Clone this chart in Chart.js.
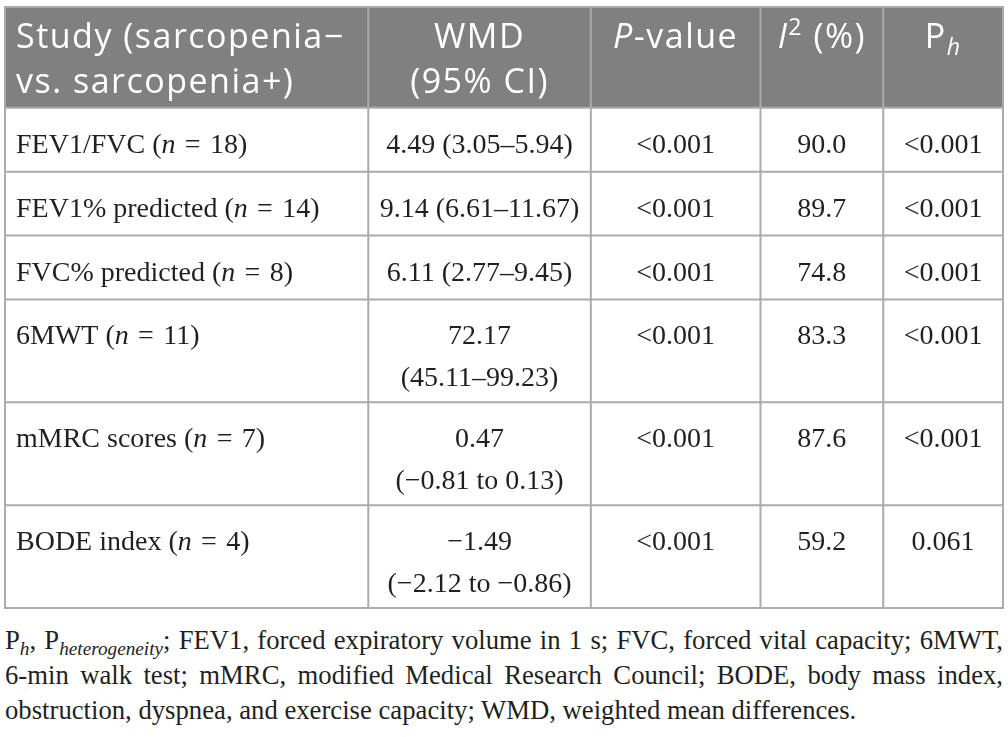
<!DOCTYPE html>
<html>
<head>
<meta charset="utf-8">
<script src="https://cdn.jsdelivr.net/npm/chart.js@4.4.1/dist/chart.umd.min.js"></script>
<style>
    html, body { margin: 0; background: #fff; }
    #wrap { position: relative; width: 1008px; height: 615px; }
    .note { font-family: "Liberation Serif", serif; font-size: 26.7px; line-height: 35px; color: #231f20; margin: 8px 5px 0 5px; }
    .note div { text-align: justify; text-align-last: justify; white-space: nowrap; }
    .note div.last { text-align-last: left; }
    .note sub { font-size: 0.72em; line-height: 0; vertical-align: -0.3em; font-style: italic; }
</style>
</head>
<body>
<div id="wrap"><canvas id="tbl"></canvas></div>
<div class="note">
    <div>P<sub>h</sub>, P<sub>heterogeneity</sub>; FEV1, forced expiratory volume in 1 s; FVC, forced vital capacity; 6MWT,</div>
    <div>6-min walk test; mMRC, modified Medical Research Council; BODE, body mass index,</div>
    <div class="last">obstruction, dyspnea, and exercise capacity; WMD, weighted mean differences.</div>
</div>
<script>
// 数据
const studies = ['FEV1/FVC', 'FEV1% predicted', 'FVC% predicted', '6MWT', 'mMRC scores', 'BODE index'];
const nStudies = [18, 14, 8, 11, 7, 4];
const wmd = ['4.49', '9.14', '6.11', '72.17', '0.47', '\u22121.49'];
const ci95 = ['3.05\u20135.94', '6.61\u201311.67', '2.77\u20139.45', '45.11\u201399.23', '\u22120.81 to 0.13', '\u22122.12 to \u22120.86'];
const pValues = ['<0.001', '<0.001', '<0.001', '<0.001', '<0.001', '<0.001'];
const i2 = [90.0, 89.7, 74.8, 83.3, 87.6, 59.2];
const pHet = ['<0.001', '<0.001', '<0.001', '<0.001', '<0.001', '0.061'];

// 表头
const headers = [
    [[{ t: 'Study (sarcopenia\u2212' }], [{ t: 'vs. sarcopenia+)' }]],
    [[{ t: 'WMD' }], [{ t: '(95% CI)' }]],
    [[{ t: 'P', it: true }, { t: '-value' }]],
    [[{ t: 'I', it: true }, { t: '2', sup: true }, { t: ' (%)' }]],
    [[{ t: 'P' }, { t: 'h', it: true, sub: true }]]
];

// 布局
const colEdges = [0, 0.364, 0.587, 0.757, 0.880, 1];
const HEAD_H = 101, ROW1_H = 64, ROW2_H = 103;
const SANS = '"Open Sans", sans-serif', SERIF = '"Liberation Serif", serif';
const HEAD_SIZE = 34, BODY_SIZE = 28;
const INK = '#231f20', GRID = '#ababab', HEAD_BG = '#808080';

const mctx = document.createElement('canvas').getContext('2d');
function segFont(s, size, fam) {
    const sz = (s.sup || s.sub) ? size * 0.68 : size;
    return `${s.it ? 'italic ' : ''}${sz}px ${fam}`;
}
function richWidth(ctx, segs, size, fam) {
    return segs.reduce((w, s) => { ctx.font = segFont(s, size, fam); return w + ctx.measureText(s.t).width; }, 0);
}
function drawRich(ctx, segs, x, y, align, size, fam) {
    let cx = align === 'center' ? x - richWidth(ctx, segs, size, fam) / 2 : x;
    ctx.textAlign = 'left';
    ctx.textBaseline = 'alphabetic';
    segs.forEach(s => {
        ctx.font = segFont(s, size, fam);
        const dy = s.sup ? -size * 0.38 : s.sub ? size * 0.22 : 0;
        ctx.fillText(s.t, cx, y + dy);
        cx += ctx.measureText(s.t).width;
    });
}

// 每一行的内容
const colW = [];
for (let i = 0; i < 5; i++) colW.push((colEdges[i + 1] - colEdges[i]) * 998);
mctx.font = `${BODY_SIZE}px ${SERIF}`;
const rows = studies.map((s, i) => {
    const one = `${wmd[i]} (${ci95[i]})`;
    const wmdLines = mctx.measureText(one).width <= colW[1] - 14 ? [one] : [wmd[i], `(${ci95[i]})`];
    return {
        cells: [
            [[{ t: s + ' (' }, { t: 'n', it: true }, { t: '\u2004=\u2004' + nStudies[i] + ')' }]],
            wmdLines.map(t => [{ t }]),
            [[{ t: pValues[i] }]],
            [[{ t: i2[i].toFixed(1) }]],
            [[{ t: pHet[i] }]]
        ],
        h: wmdLines.length > 1 ? ROW2_H : ROW1_H
    };
});
const rowTops = [HEAD_H];
rows.forEach(r => rowTops.push(rowTops[rowTops.length - 1] + r.h));
const totalH = rowTops[rowTops.length - 1];

const tablePlugin = {
    id: 'tablePlugin',
    afterDraw(chart) {
        const { ctx, scales: { x, y } } = chart;
        const X = v => x.getPixelForValue(v), Y = v => y.getPixelForValue(v);
        ctx.save();
        ctx.fillStyle = HEAD_BG;
        ctx.fillRect(X(0), Y(0), X(1) - X(0), Y(HEAD_H) - Y(0));

        // 表头文字
        ctx.fillStyle = '#fff';
        ctx.letterSpacing = '1.5px';
        headers.forEach((lines, c) => {
            lines.forEach((segs, l) => {
                const align = c === 0 ? 'left' : 'center';
                const px = c === 0 ? X(colEdges[0]) + 11 : (X(colEdges[c]) + X(colEdges[c + 1])) / 2;
                drawRich(ctx, segs, px, Y(41 + l * 45), align, HEAD_SIZE, SANS);
            });
        });
        ctx.letterSpacing = '0px';

        // 表体
        ctx.fillStyle = INK;
        rows.forEach((r, ri) => {
            r.cells.forEach((lines, c) => {
                lines.forEach((segs, l) => {
                    const align = c === 0 ? 'left' : 'center';
                    const px = c === 0 ? X(colEdges[0]) + 11 : (X(colEdges[c]) + X(colEdges[c + 1])) / 2;
                    drawRich(ctx, segs, px, Y(rowTops[ri] + 45 + l * 42), align, BODY_SIZE, SERIF);
                });
            });
        });

        // 网格线
        ctx.strokeStyle = GRID;
        ctx.lineWidth = 2;
        ctx.beginPath();
        [0, ...rowTops].forEach(v => { ctx.moveTo(X(0) - 1, Y(v)); ctx.lineTo(X(1) + 1, Y(v)); });
        colEdges.forEach(v => { ctx.moveTo(X(v), Y(0)); ctx.lineTo(X(v), Y(totalH)); });
        ctx.stroke();
        ctx.restore();
    }
};

new Chart(document.getElementById('tbl'), {
    type: 'scatter',
    data: { datasets: [{ data: [], pointRadius: 0 }] },
    options: {
        responsive: true,
        maintainAspectRatio: false,
        animation: false,
        layout: { padding: { left: 5, right: 5, top: 7, bottom: 7 } },
        plugins: { legend: { display: false }, tooltip: { enabled: false } },
        scales: {
            x: { type: 'linear', min: 0, max: 1, display: false },
            y: { type: 'linear', min: 0, max: totalH, reverse: true, display: false }
        }
    },
    plugins: [tablePlugin]
});
</script>
</body>
</html>
